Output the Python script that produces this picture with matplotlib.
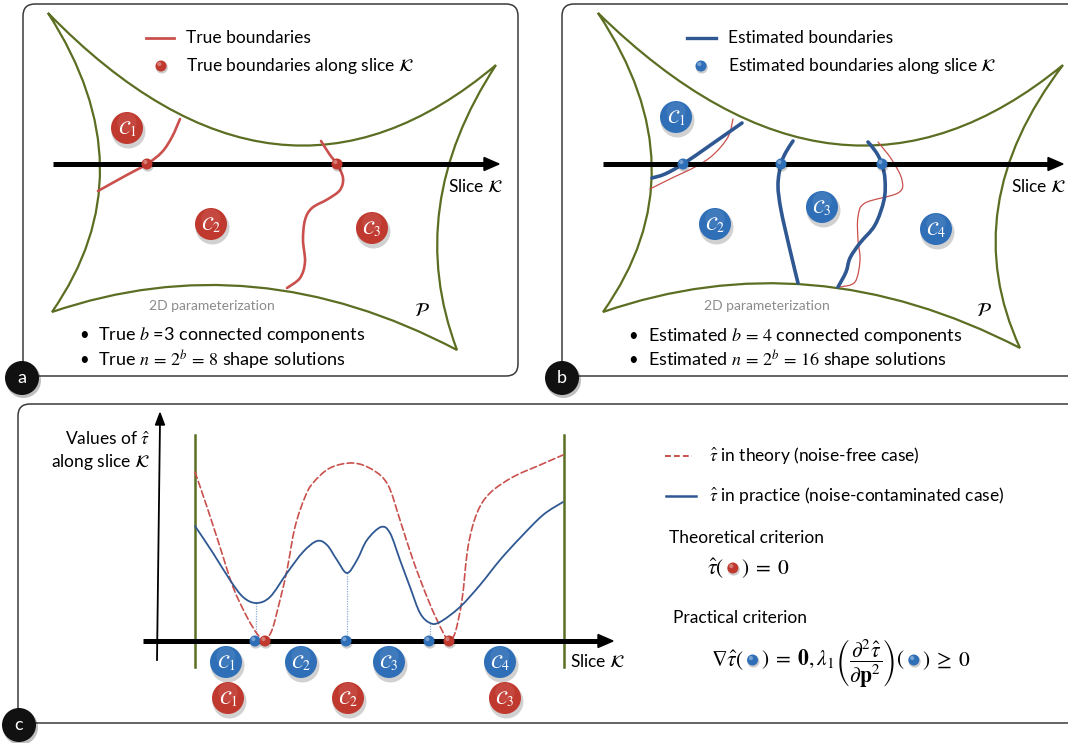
import matplotlib
matplotlib.use("Agg")
import matplotlib.pyplot as plt
from matplotlib.path import Path
from matplotlib.patches import PathPatch, Circle, FancyBboxPatch, Polygon
import numpy as np

plt.rcParams['font.family'] = ['Lato', 'DejaVu Sans']
plt.rcParams['mathtext.fontset'] = 'stix'

W, H = 1068, 743

GREEN = '#5b6e22'
RED = '#c0392f'
BLUE = '#2f6fb8'
RED_LINE = '#c9504c'
BLUE_LINE = '#2f5893'

# ---- diagram data (pixel coordinates) ----
panel_frames = {'a': (23, 4, 518, 376), 'b': (562, 4, 1080, 376), 'c': (18, 404, 1080, 723)}
badges = {'a': (22, 378), 'b': (562, 378), 'c': (19, 725)}

# concave domain P: corners TL, TR, BR, BL and one control point per side (top, right, bottom, left)
domain_a_corners = [(48, 13), (496, 65), (457, 350), (52, 312)]
domain_a_ctrl = [(278, 249), (403, 207), (254, 243), (150, 171)]
domain_b_corners = [(598, 13), (1063, 65), (1020, 348), (603, 312)]
domain_b_ctrl = [(839, 249), (955, 207), (811, 240), (703, 171)]

slice_a = (53, 499, 164)
slice_b = (603, 1063, 164)
slice_c = (143, 613, 641)

true_bnd_a1 = [(180, 119), (172, 137), (162, 152), (147, 164), (125, 176), (98, 191)]
true_bnd_a2 = [(321, 141), (330, 155), (337, 164), (343, 178), (340, 190), (328, 199), (312, 208),
               (305, 220), (303, 240), (305, 262), (300, 278), (287, 288)]
true_dots_a = [(147, 164), (337, 164)]
true_comp_a = [(127, 128, '1'), (211, 224, '2'), (372, 228, '3')]

est_bnd_b1 = [(742, 123), (712, 144), (683, 164), (665, 174), (652, 178)]
est_bnd_b2 = [(793, 141), (786, 152), (781, 164), (778, 185), (781, 210), (790, 250), (798, 283)]
est_bnd_b3 = [(868, 142), (876, 152), (882, 164), (885, 180), (884, 200), (875, 225), (860, 243),
              (850, 258), (846, 272), (838, 287)]
true_bnd_b1 = [(733, 119), (728, 137), (713, 155), (695, 167), (672, 178), (650, 189)]
true_bnd_b2 = [(878, 142), (892, 160), (902, 180), (898, 193), (865, 203), (858, 217), (858, 240),
               (860, 260), (855, 282), (840, 287)]
est_dots_b = [(683, 164), (781, 164), (882, 164)]
est_comp_b = [(676, 117, '1'), (715, 224, '2'), (822, 207, '3'), (936, 229, '4')]

# panel c curves
tau_practice = [(195, 526), (213, 553), (230, 580), (243, 597), (256, 603), (270, 597), (287, 573),
                (303, 552), (317, 541), (327, 545), (337, 560), (347, 573), (357, 560), (367, 540),
                (381, 527), (390, 533), (400, 560), (410, 587), (420, 613), (430, 623), (440, 622),
                (460, 607), (480, 585), (500, 560), (520, 538), (543, 515), (563, 502)]
tau_theory = [(195, 472), (207, 507), (220, 547), (233, 587), (247, 617), (258, 635), (265, 639),
              (272, 630), (280, 600), (287, 570), (295, 527), (305, 497), (313, 483), (330, 468),
              (353, 463), (373, 470), (388, 485), (400, 520), (413, 560), (427, 597), (437, 620),
              (445, 636), (449, 640), (455, 633), (462, 600), (468, 547), (477, 513), (490, 493),
              (513, 477), (540, 465), (563, 455)]
c_walls = [195, 564]
c_blue_minima = [(256, 603), (347, 573), (430, 623)]
c_red_dots = [(265, 641), (449, 641)]
c_blue_comps = [(226, 662, '1'), (301, 662, '2'), (389, 662, '3'), (500, 662, '4')]
c_red_comps = [(228, 698, '1'), (348, 698, '2'), (505, 698, '3')]


def smooth_path(pts):
    pts = np.asarray(pts, float)
    verts = [pts[0]]
    codes = [Path.MOVETO]
    n = len(pts)
    for i in range(n - 1):
        p0 = pts[i - 1] if i > 0 else pts[i]
        p1, p2 = pts[i], pts[i + 1]
        p3 = pts[i + 2] if i + 2 < n else pts[i + 1]
        verts += [p1 + (p2 - p0) / 6, p2 - (p3 - p1) / 6, p2]
        codes += [Path.CURVE4] * 3
    return Path(verts, codes)


def draw_curve(ax, pts, color, lw, ls='-', z=3):
    ax.add_patch(PathPatch(smooth_path(pts), fill=False, edgecolor=color, lw=lw,
                           linestyle=ls, capstyle='round', zorder=z))


def draw_domain(ax, corners, ctrl):
    verts = [corners[0]]
    codes = [Path.MOVETO]
    for i in range(4):
        verts += [ctrl[i], corners[(i + 1) % 4]]
        codes += [Path.CURVE3, Path.CURVE3]
    ax.add_patch(PathPatch(Path(verts, codes), fill=False, edgecolor=GREEN, lw=1.6, zorder=2))


def draw_arrow(ax, x0, x1, y, lw=3.6, head=15, half=6.5):
    ax.plot([x0, x1 - head + 2], [y, y], color='black', lw=lw, solid_capstyle='butt', zorder=4)
    ax.add_patch(Polygon([(x1, y), (x1 - head, y - half), (x1 - head, y + half)],
                         closed=True, color='black', zorder=4))


def ball(ax, x, y, r, color, z=6):
    ax.add_patch(Circle((x + 0.8, y + 1.5), r + 0.6, color='black', alpha=0.2, lw=0, zorder=z))
    ax.add_patch(Circle((x, y), r, color=color, lw=0, zorder=z + 0.1))
    ax.add_patch(Circle((x - r * 0.3, y - r * 0.35), r * 0.38, color='white', alpha=0.35, lw=0,
                        zorder=z + 0.2))


def component(ax, x, y, idx, color, r=16):
    ax.add_patch(Circle((x + 1.5, y + 3.5), r + 1, color='black', alpha=0.18, lw=0, zorder=5))
    ax.add_patch(Circle((x, y), r, color=color, lw=0, zorder=5.1))
    ax.add_patch(Circle((x, y - r * 0.35), r * 0.6, color='white', alpha=0.08, lw=0, zorder=5.2))
    ax.text(x, y + 1, r'$\mathcal{C}_%s$' % idx, color='white', fontsize=14,
            ha='center', va='center', zorder=5.3)


fig = plt.figure(figsize=(W / 100, H / 100), dpi=100)
ax = fig.add_axes([0, 0, 1, 1])
ax.set_xlim(0, W)
ax.set_ylim(H, 0)
ax.set_aspect('equal')
ax.axis('off')

# panel frames and badges
for key, (x0, y0, x1, y1) in panel_frames.items():
    ax.add_patch(FancyBboxPatch((x0, y0), x1 - x0, y1 - y0,
                                boxstyle='round,pad=0,rounding_size=12',
                                fill=False, edgecolor='#3a3a3a', lw=1.1, zorder=1))
for key, (bx, by) in badges.items():
    ax.add_patch(Circle((bx + 1.5, by + 2.5), 17.5, color='black', alpha=0.25, lw=0, zorder=8))
    ax.add_patch(Circle((bx, by), 17, color='#111111', lw=0, zorder=8.1))
    ax.text(bx, by, key, color='white', fontsize=13, ha='center', va='center', zorder=8.2)

# ---------------- panel a ----------------
draw_domain(ax, domain_a_corners, domain_a_ctrl)
draw_arrow(ax, *slice_a)
draw_curve(ax, true_bnd_a1, RED_LINE, 1.9)
draw_curve(ax, true_bnd_a2, RED_LINE, 1.9)
for x, y in true_dots_a:
    ball(ax, x, y, 5.5, RED)
for x, y, i in true_comp_a:
    component(ax, x, y, i, RED)
ax.plot([146, 174], [38, 38], color=RED_LINE, lw=2)
ax.text(186, 38, 'True boundaries', fontsize=12.5, va='center')
ball(ax, 161, 66, 5.5, RED)
ax.text(186, 66, r'True boundaries along slice $\mathcal{K}$', fontsize=12.5, va='center')
ax.text(448, 187, r'Slice $\mathcal{K}$', fontsize=12.5, va='center')
ax.text(212, 306, '2D parameterization', fontsize=10, color='#8c8c8c', ha='center', va='center')
ax.text(422, 311, r'$\mathcal{P}$', fontsize=14, ha='center', va='center')
ax.text(79, 335, '•', fontsize=12, va='center')
ax.text(98, 335, r'True $b$ =3 connected components', fontsize=13, va='center')
ax.text(79, 360, '•', fontsize=12, va='center')
ax.text(98, 360, r'True $n\,=\,2^b\,=\,8$ shape solutions', fontsize=13, va='center')

# ---------------- panel b ----------------
draw_domain(ax, domain_b_corners, domain_b_ctrl)
draw_arrow(ax, *slice_b)
draw_curve(ax, true_bnd_b1, RED_LINE, 0.9)
draw_curve(ax, true_bnd_b2, RED_LINE, 0.9)
for pts in (est_bnd_b1, est_bnd_b2, est_bnd_b3):
    draw_curve(ax, pts, BLUE_LINE, 2.6, z=3.5)
for x, y in est_dots_b:
    ball(ax, x, y, 5.5, BLUE)
for x, y, i in est_comp_b:
    component(ax, x, y, i, BLUE)
ax.plot([687, 716], [38, 38], color=BLUE_LINE, lw=2.4)
ax.text(728, 38, 'Estimated boundaries', fontsize=12.5, va='center')
ball(ax, 701, 66, 5.5, BLUE)
ax.text(728, 66, r'Estimated boundaries along slice $\mathcal{K}$', fontsize=12.5, va='center')
ax.text(1011, 187, r'Slice $\mathcal{K}$', fontsize=12.5, va='center')
ax.text(767, 306, '2D parameterization', fontsize=10, color='#8c8c8c', ha='center', va='center')
ax.text(984, 310, r'$\mathcal{P}$', fontsize=14, ha='center', va='center')
ax.text(628, 336, '•', fontsize=12, va='center')
ax.text(648, 336, r'Estimated $b\,=\,4$ connected components', fontsize=13, va='center')
ax.text(628, 360, '•', fontsize=12, va='center')
ax.text(648, 360, r'Estimated $n\,=\,2^b\,=\,16$ shape solutions', fontsize=13, va='center')

# ---------------- panel c ----------------
for xw in c_walls:
    ax.plot([xw, xw], [435, 667], color=GREEN, lw=1.8, zorder=2)
ax.plot([157, 160], [660, 422], color='black', lw=1.3, zorder=4)
ax.add_patch(Polygon([(160, 413), (155.5, 425), (164.5, 425)], closed=True, color='black', zorder=4))
draw_arrow(ax, *slice_c)
draw_curve(ax, tau_theory, RED_LINE, 1.2, ls=(0, (4, 2)))
draw_curve(ax, tau_practice, BLUE_LINE, 1.3)
for x, y in c_blue_minima:
    ax.plot([x, x], [y, slice_c[2]], color='#8fb0d8', lw=0.9, ls=(0, (1, 1)), zorder=2.5)
    ball(ax, x - 1, slice_c[2], 5.5, BLUE)
for x, y in c_red_dots:
    ball(ax, x, y, 5.5, RED)
for x, y, i in c_blue_comps:
    component(ax, x, y, i, BLUE)
for x, y, i in c_red_comps:
    component(ax, x, y, i, RED)
ax.text(150, 439, r'Values of $\hat{\tau}$', fontsize=12.5, ha='right', va='center')
ax.text(150, 462, r'along slice $\mathcal{K}$', fontsize=12.5, ha='right', va='center')
ax.text(570, 662, r'Slice $\mathcal{K}$', fontsize=12.5, va='center')

# legend and criteria
ax.plot([665, 692], [456, 456], color=RED_LINE, lw=1.4, ls=(0, (3, 1.6)))
ax.text(709, 456, r'$\hat{\tau}$ in theory (noise-free case)', fontsize=12.5, va='center')
ax.plot([666, 696], [496, 496], color=BLUE_LINE, lw=1.8)
ax.text(709, 496, r'$\hat{\tau}$ in practice (noise-contaminated case)', fontsize=12.5, va='center')
ax.text(669, 538, 'Theoretical criterion', fontsize=12.5, va='center')
ax.text(673, 618, 'Practical criterion', fontsize=12.5, va='center')

fig.canvas.draw()
renderer = fig.canvas.get_renderer()


def formula(x, y, pieces, fs=15.5, gap=17):
    # pieces: strings, or a colour string starting with '#' for an inline ball
    for p in pieces:
        if p.startswith('#'):
            ball(ax, x + gap / 2, y - 6, 5.5, p)
            x += gap
        else:
            t = ax.text(x, y, p, fontsize=fs, va='baseline', ha='left')
            x += t.get_window_extent(renderer).width


formula(707, 574, [r'$\hat{\tau}($', RED, r'$)\;=\;0$'])
formula(711, 666, [r'$\nabla\hat{\tau}($', BLUE,
                   r'$)\;=\;\mathbf{0},\lambda_1\left(\dfrac{\partial^2\hat{\tau}}{\partial\mathbf{p}^2}\right)($',
                   BLUE, r'$)\;\geq\;0$'])

fig.savefig('out.png', dpi=100)
